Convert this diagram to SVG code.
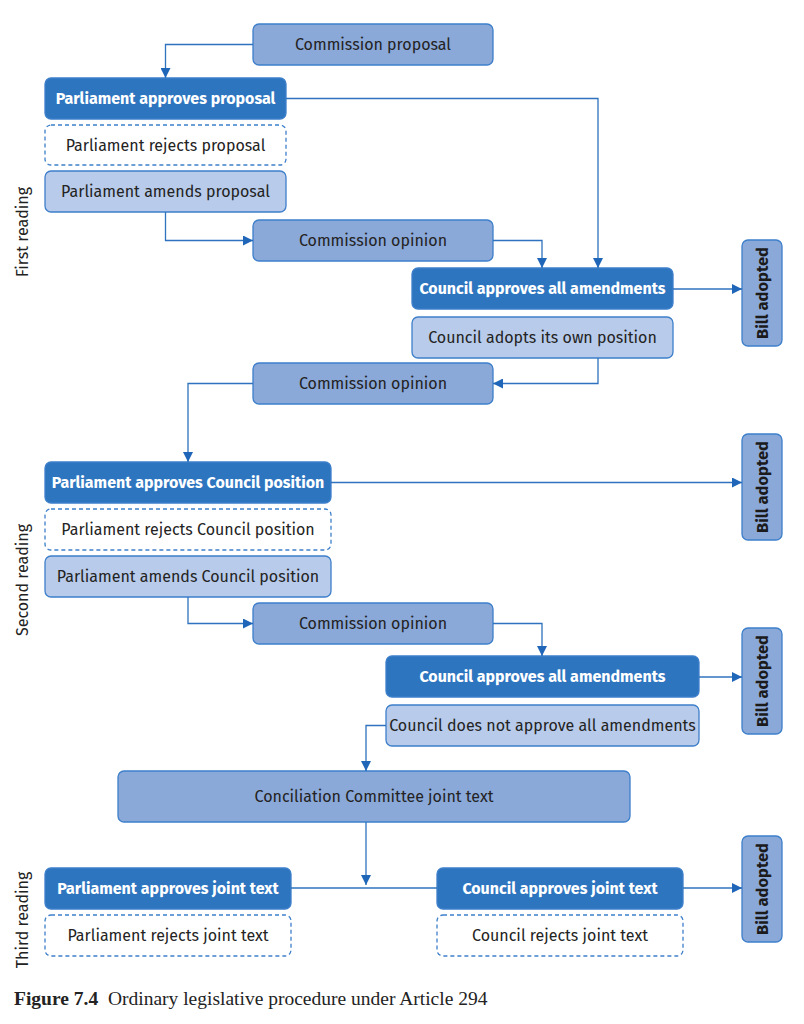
<svg xmlns="http://www.w3.org/2000/svg" width="804" height="1024" viewBox="0 0 804 1024">
<defs>
<marker id="ah" viewBox="0 0 10 10" refX="10" refY="5" markerWidth="10" markerHeight="10" markerUnits="userSpaceOnUse" orient="auto">
<path d="M0,0 L10,5 L0,10 Z" fill="#1f65b8"/>
</marker>
<style>
.box rect{stroke:#3d7fca;stroke-width:1.3}
.dark rect{fill:#2e75c0}
.mid rect{fill:#8aa8d8}
.light rect{fill:#b8cbea}
.dash rect{fill:#fff;stroke-dasharray:4 3}
text{font-family:"Fira Sans","Noto Sans","Open Sans",sans-serif;font-size:16px;text-anchor:middle;dominant-baseline:central;fill:#232323}
.dark text{fill:#fff;font-weight:bold}
.bill text{font-weight:bold;fill:#1b1b1b;font-size:16.5px}
.side{font-size:16px;fill:#222}
.conn path{fill:none;stroke:#2f72be;stroke-width:1.3}
.cap{font-family:"Liberation Serif",serif;font-size:19.5px;text-anchor:start;dominant-baseline:auto}
</style>
</defs>
<rect width="804" height="1024" fill="#fff"/>

<g id="commission-proposal" class="box mid"><rect x="253" y="24" width="240" height="41" rx="6"/><text x="373" y="44.5">Commission proposal</text></g>
<g id="parl-approves-proposal" class="box dark"><rect x="45" y="78" width="241" height="41" rx="6"/><text x="165.5" y="98.5">Parliament approves proposal</text></g>
<g id="parl-rejects-proposal" class="box dash"><rect x="45" y="125" width="241" height="40" rx="6"/><text x="165.5" y="145">Parliament rejects proposal</text></g>
<g id="parl-amends-proposal" class="box light"><rect x="45" y="171" width="241" height="41" rx="6"/><text x="165.5" y="191.5">Parliament amends proposal</text></g>
<g id="commission-opinion-1" class="box mid"><rect x="253" y="220" width="240" height="41" rx="6"/><text x="373" y="240.5">Commission opinion</text></g>
<g id="council-approves-1" class="box dark"><rect x="412" y="268" width="261" height="41" rx="6"/><text x="542.5" y="288.5">Council approves all amendments</text></g>
<g id="council-own-position" class="box light"><rect x="412" y="317" width="261" height="41" rx="6"/><text x="542.5" y="337.5">Council adopts its own position</text></g>
<g id="bill-1" class="box mid bill"><rect x="742" y="240" width="40" height="106" rx="6"/><text x="762" y="293" transform="rotate(-90 762 293)">Bill adopted</text></g>
<g id="commission-opinion-2" class="box mid"><rect x="253" y="363" width="240" height="41" rx="6"/><text x="373" y="383.5">Commission opinion</text></g>
<g id="parl-approves-council" class="box dark"><rect x="45" y="462" width="286" height="41" rx="6"/><text x="188" y="482.5">Parliament approves Council position</text></g>
<g id="parl-rejects-council" class="box dash"><rect x="45" y="509" width="286" height="41" rx="6"/><text x="188" y="529.5">Parliament rejects Council position</text></g>
<g id="parl-amends-council" class="box light"><rect x="45" y="556" width="286" height="41" rx="6"/><text x="188" y="576.5">Parliament amends Council position</text></g>
<g id="bill-2" class="box mid bill"><rect x="742" y="434" width="40" height="106" rx="6"/><text x="762" y="487" transform="rotate(-90 762 487)">Bill adopted</text></g>
<g id="commission-opinion-3" class="box mid"><rect x="253" y="603" width="240" height="41" rx="6"/><text x="373" y="623.5">Commission opinion</text></g>
<g id="council-approves-2" class="box dark"><rect x="386" y="656" width="313" height="41" rx="6"/><text x="542.5" y="676.5">Council approves all amendments</text></g>
<g id="council-not-approve" class="box light"><rect x="386" y="705" width="313" height="41" rx="6"/><text x="542.5" y="725.5">Council does not approve all amendments</text></g>
<g id="bill-3" class="box mid bill"><rect x="742" y="628" width="40" height="106" rx="6"/><text x="762" y="681" transform="rotate(-90 762 681)">Bill adopted</text></g>
<g id="conciliation" class="box mid"><rect x="118" y="771" width="512" height="51" rx="6"/><text x="374" y="796.5">Conciliation Committee joint text</text></g>
<g id="parl-approves-joint" class="box dark"><rect x="45" y="868" width="246" height="41" rx="6"/><text x="168" y="888.5">Parliament approves joint text</text></g>
<g id="parl-rejects-joint" class="box dash"><rect x="45" y="915" width="246" height="41" rx="6"/><text x="168" y="935.5">Parliament rejects joint text</text></g>
<g id="council-approves-joint" class="box dark"><rect x="437" y="868" width="246" height="41" rx="6"/><text x="560" y="888.5">Council approves joint text</text></g>
<g id="council-rejects-joint" class="box dash"><rect x="437" y="915" width="246" height="41" rx="6"/><text x="560" y="935.5">Council rejects joint text</text></g>
<g id="bill-4" class="box mid bill"><rect x="742" y="836" width="40" height="106" rx="6"/><text x="762" y="889" transform="rotate(-90 762 889)">Bill adopted</text></g>

<g id="connectors" class="conn">
<path d="M253,44.5 H165.5 V78" marker-end="url(#ah)"/>
<path d="M286,98.5 H598 V268" marker-end="url(#ah)"/>
<path d="M165.5,212 V240.5 H253" marker-end="url(#ah)"/>
<path d="M493,240.5 H542 V268" marker-end="url(#ah)"/>
<path d="M673,289 H742" marker-end="url(#ah)"/>
<path d="M598,358 V383.5 H493" marker-end="url(#ah)"/>
<path d="M253,383.5 H188 V462" marker-end="url(#ah)"/>
<path d="M331,482.5 H742" marker-end="url(#ah)"/>
<path d="M188,597 V623.5 H253" marker-end="url(#ah)"/>
<path d="M493,623.5 H542 V656" marker-end="url(#ah)"/>
<path d="M699,677 H742" marker-end="url(#ah)"/>
<path d="M386,725.5 H366 V771" marker-end="url(#ah)"/>
<path d="M366,822 V885" marker-end="url(#ah)"/>
<path d="M291,888 H437"/>
<path d="M683,888 H742" marker-end="url(#ah)"/>
</g>

<text class="side" x="22" y="232" transform="rotate(-90 22 232)">First reading</text>
<text class="side" x="22" y="580" transform="rotate(-90 22 580)">Second reading</text>
<text class="side" x="22" y="920" transform="rotate(-90 22 920)">Third reading</text>

<text class="cap" x="14" y="1005" xml:space="preserve"><tspan font-weight="bold">Figure 7.4</tspan>  Ordinary legislative procedure under Article 294</text>
</svg>
